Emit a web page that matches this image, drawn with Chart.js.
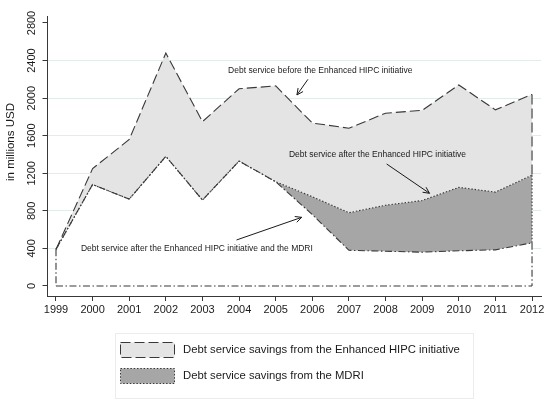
<!DOCTYPE html>
<html><head><meta charset="utf-8">
<script src="https://cdn.jsdelivr.net/npm/chart.js@4/dist/chart.umd.min.js"></script>
<style>html,body{margin:0;padding:0;background:#fff;}#wrap{width:558px;height:409px;position:relative;}</style>
</head><body><div id="wrap"><canvas id="c" width="558" height="409"></canvas></div>
<script>
// ---- data ----
const years = [1999,2000,2001,2002,2003,2004,2005,2006,2007,2008,2009,2010,2011,2012];
const beforeHIPC = [390,1250,1560,2480,1750,2100,2130,1735,1680,1840,1870,2140,1875,2040];
const afterHIPC  = [390,1080,925,1380,915,1330,1110,950,780,860,910,1050,1000,1180];
const afterMDRI  = [390,1080,925,1380,915,1330,1110,760,380,370,360,375,385,460];
const yTicks = [0,400,800,1200,1600,2000,2400,2800];
const yTitle = 'in millions USD';
const legendLabels = ['Debt service savings from the Enhanced HIPC initiative','Debt service savings from the MDRI'];
const annoTexts = ['Debt service before the Enhanced HIPC initiative','Debt service after the Enhanced HIPC initiative','Debt service after the Enhanced HIPC initiative and the MDRI'];
// annotation anchors in data units (year, value)
const annoPos = [[2003.70,2289],[2005.36,1395],[1999.68,401]];
const arrowFrom = [[2005.88,2200],[2008.03,1299],[2003.93,490]];
const arrowTo   = [[2005.58,2034],[2009.20,987],[2005.71,731]];

const FONT = '"Liberation Sans", Arial, Helvetica, sans-serif';
const LINE = '#383838';
const LIGHT = '#e4e4e4', DARK = '#a6a6a6';
const DASH = [10,4], DOT = [1.5,1.8], DASHDOT = [7,2.5,1.5,2.5];

const pts = (arr) => years.map((yr,i)=>({x:yr,y:arr[i]}));
const last = years.length-1;
const seg = (x, a, b) => [{x:x,y:a},{x:x,y:b}];

const base = {pointRadius:0, borderWidth:1.1, borderColor:LINE, tension:0, fill:false};
const datasets = [
  Object.assign({}, base, {label:'before', data:pts(beforeHIPC), borderDash:DASH, fill:'+1', backgroundColor:LIGHT}),
  Object.assign({}, base, {label:'afterHIPC', data:pts(afterHIPC), borderDash:DOT, fill:'+1', backgroundColor:DARK}),
  Object.assign({}, base, {label:'afterMDRI', data:pts(afterMDRI), borderDash:DASHDOT, fill:'origin', backgroundColor:'#ffffff'}),
  Object.assign({}, base, {label:'zero', data:years.map(yr=>({x:yr,y:0})), borderDash:DASHDOT}),
  Object.assign({}, base, {label:'v1', data:seg(years[0], afterMDRI[0], 0), borderDash:DASHDOT}),
  Object.assign({}, base, {label:'v2a', data:seg(years[last], beforeHIPC[last], afterHIPC[last]), borderDash:DASH}),
  Object.assign({}, base, {label:'v2b', data:seg(years[last], afterHIPC[last], afterMDRI[last]), borderDash:DOT}),
  Object.assign({}, base, {label:'v2c', data:seg(years[last], afterMDRI[last], 0), borderDash:DASHDOT})
];

const extras = {
  id:'extras',
  afterDraw(chart){
    const ctx = chart.ctx, xs = chart.scales.x, ys = chart.scales.y;
    const px = v=>xs.getPixelForValue(v), py = v=>ys.getPixelForValue(v);
    ctx.save();
    // annotations
    ctx.fillStyle = '#1a1a1a';
    ctx.font = '8.5px ' + FONT;
    ctx.textBaseline = 'middle'; ctx.textAlign = 'left';
    annoTexts.forEach((t,i)=>ctx.fillText(t, px(annoPos[i][0]), py(annoPos[i][1])));
    ctx.strokeStyle = '#1a1a1a'; ctx.lineWidth = 1; ctx.setLineDash([]);
    arrowFrom.forEach((f,i)=>{
      const x1=px(f[0]), y1=py(f[1]), x2=px(arrowTo[i][0]), y2=py(arrowTo[i][1]);
      ctx.beginPath(); ctx.moveTo(x1,y1); ctx.lineTo(x2,y2); ctx.stroke();
      const a = Math.atan2(y2-y1, x2-x1), L=7, w=0.45;
      ctx.beginPath();
      ctx.moveTo(x2 - L*Math.cos(a-w), y2 - L*Math.sin(a-w));
      ctx.lineTo(x2,y2);
      ctx.lineTo(x2 - L*Math.cos(a+w), y2 - L*Math.sin(a+w));
      ctx.stroke();
    });
    // y title
    ctx.save();
    ctx.translate(11, (ys.top+ys.bottom)/2 - 14);
    ctx.rotate(-Math.PI/2);
    ctx.font = '11.5px ' + FONT; ctx.textAlign='center'; ctx.textBaseline='middle';
    ctx.fillStyle='#1a1a1a';
    ctx.fillText(yTitle, 0, 0);
    ctx.restore();
    // legend
    ctx.strokeStyle = '#ececec'; ctx.lineWidth = 1;
    ctx.strokeRect(115.5, 333.5, 358, 65);
    const rows = [[342, LIGHT, DASH],[368, DARK, DOT]];
    rows.forEach((r,i)=>{
      ctx.fillStyle = r[1];
      ctx.fillRect(120.5, r[0]+0.5, 54, 15);
      ctx.strokeStyle = LINE; ctx.setLineDash(r[2]); ctx.lineWidth=1;
      ctx.strokeRect(120.5, r[0]+0.5, 54, 15);
      ctx.setLineDash([]);
      ctx.fillStyle = '#1a1a1a'; ctx.font = '11.3px ' + FONT;
      ctx.textAlign='left'; ctx.textBaseline='middle';
      ctx.fillText(legendLabels[i], 183, r[0]+8);
    });
    ctx.restore();
  }
};

new Chart(document.getElementById('c'), {
  type:'line',
  data:{datasets},
  options:{
    responsive:false, animation:false,
    layout:{padding:{left:0,right:17,top:16,bottom:0}},
    plugins:{legend:{display:false}, tooltip:{enabled:false}, filler:{drawTime:'beforeDatasetsDraw'}},
    elements:{line:{capBezierPoints:false}},
    scales:{
      x:{type:'linear', min:1998.768, max:2012.245,
        afterBuildTicks:(s)=>{s.ticks = years.map(v=>({value:v}));},
        afterFit:(s)=>{s.height = 113;},
        grid:{drawOnChartArea:false, drawTicks:true, tickLength:5, tickColor:LINE},
        border:{display:true, color:LINE, width:1},
        ticks:{color:'#1a1a1a', font:{family:FONT, size:11}, padding:2, maxRotation:0, autoSkip:false, callback:(v)=>String(v)}
      },
      y:{type:'linear', min:-106.5, max:2874.5,
        afterBuildTicks:(s)=>{s.ticks = yTicks.map(v=>({value:v}));},
        afterFit:(s)=>{s.width = 47.5;},
        grid:{color:(c)=> (c.tick && (c.tick.value===0 || c.tick.value===2800)) ? 'rgba(0,0,0,0)' : '#e3ebeb', lineWidth:1, drawTicks:true, tickLength:5, tickColor:LINE},
        border:{display:true, color:LINE, width:1},
        ticks:{color:'#1a1a1a', font:{family:FONT, size:11}, padding:-2.2, minRotation:90, maxRotation:90, crossAlign:'center', autoSkip:false, callback:(v)=>String(v)}
      }
    }
  },
  plugins:[extras]
});
</script></body></html>
